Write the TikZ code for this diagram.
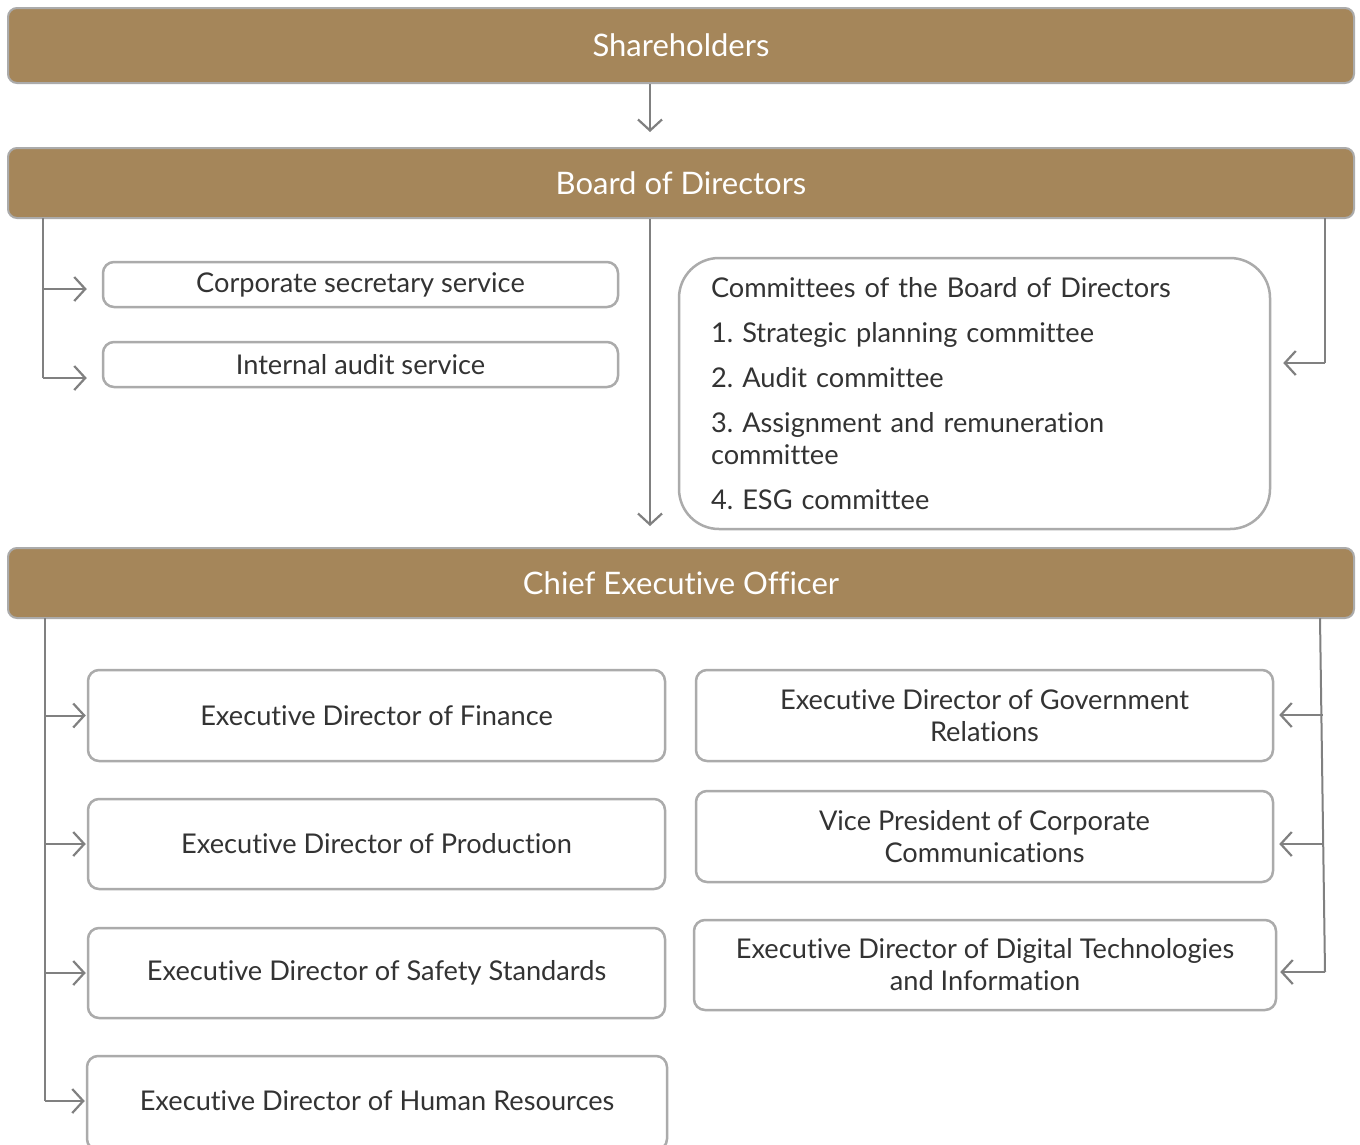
\documentclass[tikz,border=0pt]{standalone}
\usepackage{fontspec}
\setmainfont{Lato}[Ligatures=NoCommon]
\frenchspacing
\usetikzlibrary{arrows.meta}
\definecolor{tan}{HTML}{A5865A}
\definecolor{txt}{HTML}{333333}
\definecolor{edge}{HTML}{ABABAB}
\definecolor{conn}{HTML}{808080}
\tikzset{
  bar/.style={rectangle, rounded corners=9pt, fill=tan, draw=edge, line width=2pt,
    text=white, minimum width=1346pt, font=\fontsize{31}{34}\selectfont, inner sep=0pt},
  unit/.style={rectangle, rounded corners=11pt, draw=edge, line width=2.5pt, fill=white,
    text=txt, align=center, font=\fontsize{27.2}{32}\selectfont, inner sep=0pt},
  conline/.style={draw=conn, line width=2pt},
  arr/.style={conline, -{Straight Barb[length=11pt,width=24pt,line width=2.2pt]}},
}
\begin{document}
\begin{tikzpicture}[x=1pt,y=-1pt]
\useasboundingbox (0,0) rectangle (1360,1144);
\fill[white] (0,0) rectangle (1360,1144);

% bars
\node[bar, minimum height=75pt] (sh) at (681,45.5) {Shareholders};
\node[bar, minimum height=70pt] (bd) at (681,183) {Board of Directors};
\node[bar, minimum height=70pt] (ceo) at (681,583) {Chief Executive Officer};

% board services
\node[unit, minimum width=515pt, minimum height=45pt] (corp) at (360.5,284.5) {Corporate secretary service};
\node[unit, minimum width=515pt, minimum height=45pt] (aud) at (360.5,364.5) {Internal audit service};

% committees
\node[unit, rounded corners=40pt, minimum width=591pt, minimum height=271pt, align=left,
      text width=527pt] (com) at (974.5,393.5)
  {Committees of the Board of Directors\\[13pt]
   1. Strategic planning committee\\[13pt]
   2. Audit committee\\[13pt]
   3. Assignment and remuneration\\
   committee\\[13pt]
   4. ESG committee};

% CEO units left
\node[unit, minimum width=577pt, minimum height=91pt] (fin) at (376.5,715.5) {Executive Director of Finance};
\node[unit, minimum width=577pt, minimum height=90pt] (prod) at (376.5,844) {Executive Director of Production};
\node[unit, minimum width=577pt, minimum height=90pt] (saf) at (376.5,973) {Executive Director of Safety Standards};
\node[unit, minimum width=580pt, minimum height=94pt] (hr) at (377,1103) {};
\node[text=txt, font=\fontsize{27.2}{32}\selectfont] (hrt) at (377,1101) {Executive Director of Human Resources};

% CEO units right
\node[unit, minimum width=577pt, minimum height=91pt] (gov) at (984.5,715.5) {Executive Director of Government\\Relations};
\node[unit, minimum width=577pt, minimum height=91pt] (vp) at (984.5,836.5) {Vice President of Corporate\\Communications};
\node[unit, minimum width=582pt, minimum height=90pt] (dig) at (985,965) {Executive Director of Digital Technologies\\and Information};

% connectors top
\draw[arr, shorten >=15pt] (sh.south -| 650,0) -- (bd.north -| 650,0);
\draw[arr, shorten >=21pt] (bd.south -| 650,0) -- (ceo.north -| 650,0);

\coordinate (bl) at (43,218);
\coordinate (br) at (1325,218);
\draw[conline] (bl) -- (43,378);
\draw[arr, shorten >=15pt] (bl |- 0,289) -- (corp.west |- 0,289);
\draw[arr, shorten >=15pt] (43,378) -- (corp.west |- 0,378);
\draw[conline] (br) -- (1325,363);
\draw[arr, shorten >=12pt] (1325,363) -- (com.east |- 0,363);

% connectors CEO left
\coordinate (cl) at (45,618);
\draw[conline] (cl) -- (45,1101);
\draw[arr, shorten >=1pt] (cl |- fin.west) -- (fin.west);
\draw[arr, shorten >=1pt] (cl |- prod.west) -- (prod.west);
\draw[arr, shorten >=1pt] (cl |- saf.west) -- (saf.west);
\draw[arr, shorten >=1pt] (45,1101) -- (hr.west |- 0,1101);

% connectors CEO right
\coordinate (cr) at (1320,618);
\coordinate (crb) at (1325,972);
\draw[conline] (cr) -- (crb);
\draw[arr, shorten >=5pt] (1322.7,715) -- (gov.east |- 0,715);
\draw[arr, shorten >=5pt] (1324,844) -- (vp.east |- 0,844);
\draw[arr, shorten >=3pt] (crb) -- (dig.east |- 0,972);
\end{tikzpicture}
\end{document}
